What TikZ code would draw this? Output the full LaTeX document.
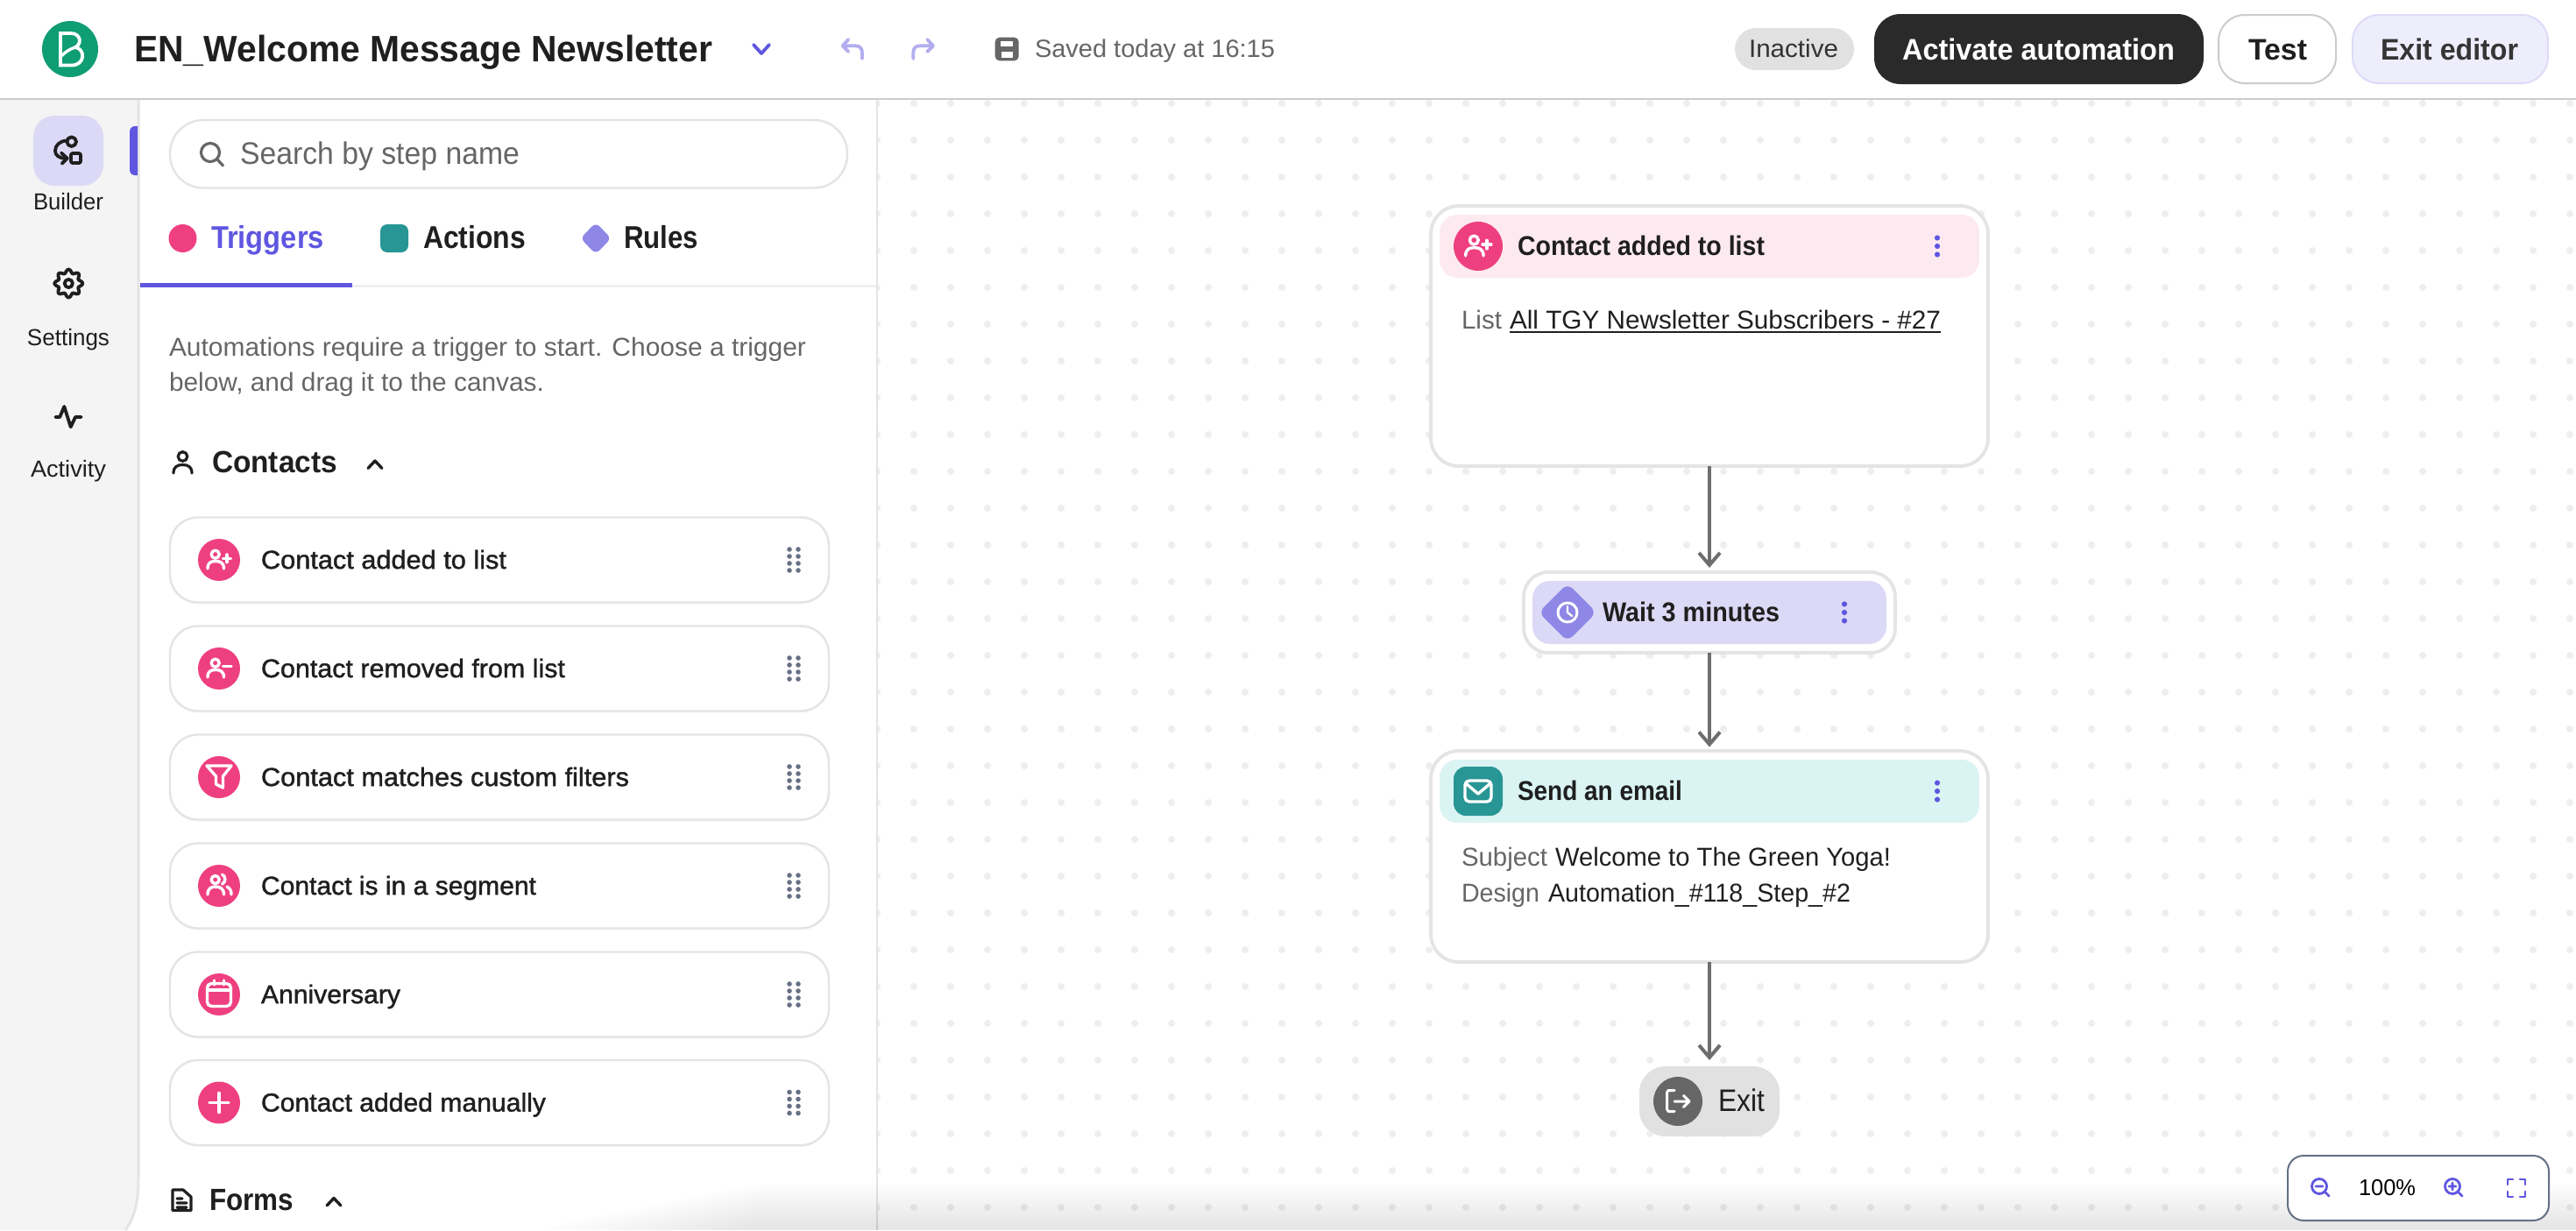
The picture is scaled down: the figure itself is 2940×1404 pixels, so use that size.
\documentclass[tikz,border=0pt]{standalone}
\usepackage{graphicx}
\usepackage{fontspec}
\setmainfont{Liberation Sans}
\newfontfamily\medfont[FakeBold=1.3]{Liberation Sans}
\usetikzlibrary{arrows.meta,shadows}
\definecolor{ink}{HTML}{1F1F1F}
\definecolor{greytx}{HTML}{666666}
\definecolor{pinkc}{HTML}{EE4080}
\definecolor{purp}{HTML}{5F56E0}
\definecolor{lilac}{HTML}{8E87E6}
\definecolor{paleL}{HTML}{DCD9F6}
\definecolor{tealc}{HTML}{279694}
\definecolor{edge}{HTML}{E4E4E4}
\definecolor{dotc}{HTML}{EEEEEE}
\definecolor{slate}{HTML}{667085}
\definecolor{undoc}{HTML}{B3ADF0}
\definecolor{logoc}{HTML}{0F9D74}
\definecolor{side}{HTML}{F4F4F4}
\definecolor{pinkhead}{HTML}{FDEAF0}
\definecolor{tealhead}{HTML}{DAF4F3}
\definecolor{pillgrey}{HTML}{E1E1E1}
\definecolor{exitfill}{HTML}{EEEDFC}
\definecolor{exitedge}{HTML}{DDDBF8}
\newlength\fw
\newcommand\fitw[2]{\settowidth\fw{#2}\pgfmathsetmacro\fr{(#1)*0.5/\fw}\scalebox{\fr}[1]{#2}}
% name, x, ycentre, width, px, style, text
\newcommand\tx[7]{\pgfmathsetmacro\fs{(#5)/2}\node[anchor=base west,inner sep=0,outer sep=0,#6] (#1) at ({#2},{#3+0.358*(#5)}) {\fontsize{\fs}{\fs}\selectfont\fitw{#4}{#7}};}
% name, x1, y1, x2, y2, style
\newcommand\bx[6]{\node[inner sep=0,outer sep=0,#6,minimum width={(#4-(#2))*.5pt},minimum height={(#5-(#3))*.5pt}] (#1) at ({(#2+#4)/2},{(#3+#5)/2}) {};}
\tikzset{
 regtx/.style={text=ink},
 greyt/.style={text=greytx},
 medtx/.style={text=ink,font=\medfont},
 boldtx/.style={text=ink,font=\bfseries},
 listcard/.style={draw=edge,line width=1.2pt,fill=white,rounded corners=16pt,drop shadow={opacity=.07,shadow xshift=0pt,shadow yshift=-1pt}},
 flowcard/.style={draw=edge,line width=1.9pt,fill=white,rounded corners=16pt},
 flowhead/.style={rounded corners=10pt},
 flowarrow/.style={draw=greytx!95,line width=2pt,-{Straight Barb[length=7pt,width=12pt,line width=2pt]}},
 wline/.style={draw=white,line width=1.7pt,line cap=round,line join=round},
 kline/.style={draw=ink,line width=1.9pt,line cap=round,line join=round},
 pline/.style={draw=purp,line width=1.4pt,line cap=round,line join=round},
 uline/.style={draw=undoc,line width=1.9pt,line cap=round,line join=round},
}
\newcommand\icoperson{\draw[wline] (-4.3,-6.3) circle (4.5);
 \draw[wline] (-13,10) .. controls (-13,3) and (-9,1.5) .. (-4,1.5) .. controls (1,1.5) and (5.5,3) .. (5.5,10);}
\newcommand\icoadd{\icoperson\draw[wline] (4.5,-1.7) -- (13.5,-1.7) (9,-6) -- (9,2.6);}
\newcommand\icorem{\icoperson\draw[wline] (4.5,-2.3) -- (14,-2.3);}
\newcommand\icofilter{\draw[wline] (-14,-13) -- (14,-13) -- (4.5,-1) -- (4.5,12) -- (-3.5,8) -- (-3.5,-1) -- cycle;}
\newcommand\icogroup{\draw[wline] (-4.3,-7) circle (4.5);
 \draw[wline] (-13,10) .. controls (-13,3) and (-9,1) .. (-4,1) .. controls (1,1) and (5.5,3) .. (5.5,10);
 \draw[wline] (3.5,-13) .. controls (8,-11) and (8,-4) .. (3.5,-2);
 \draw[wline] (9,1) .. controls (13,3) and (14,6) .. (14,10);}
\newcommand\icocal{\draw[wline,rounded corners=2.5pt] (-13.5,-12.5) rectangle (13.5,13.5);
 \draw[wline] (-13,-5) -- (13,-5) (-5.5,-16) -- (-5.5,-11) (5.5,-16) -- (5.5,-11);}
\newcommand\icoplus{\draw[wline,line width=1.8pt] (-11,0) -- (11,0) (0,-11) -- (0,11);}
\newcommand\listcardrow[5]{%
 \bx{card#1}{194}{#2-48.5}{946}{#2+48.5}{listcard}
 \fill[pinkc] (250,#2) circle (24);
 \begin{scope}[shift={(250,#2)}]#5\end{scope}
 \tx{cardtx#1}{298}{#2-0.5}{#3}{29.5}{medtx}{#4}
 \foreach \dx in {901,911} \foreach \dy in {-12,-4,4,12} \fill[slate] (\dx,#2+\dy) circle (2.8);
}
\newcommand\kebab[2]{\foreach \dy in {-9.5,0,9.5} \fill[purp] (#1,#2+\dy) circle (3.1);}
\newcommand\chev[3]{\draw[kline,line width=1.7pt] (#1-8,#2+#3*4.5) -- (#1,#2-#3*4) -- (#1+8,#2+#3*4.5);}
\begin{document}
\begin{tikzpicture}[x=0.5pt,y=-0.5pt]
\useasboundingbox (0,0) rectangle (2940,1404);
\fill[white] (0,0) rectangle (2940,1404);
% canvas dots
\begin{scope}
\clip (1001,114) rectangle (2940,1404);
\foreach \i in {0,...,46} \foreach \j in {0,...,30} \fill[dotc] (1001+42*\i,118+42*\j) circle (4);
\end{scope}
\draw[edge,line width=1.3pt] (1001,113) -- (1001,1404);
% sidebar
\fill[side] (0,114) -- (158,114) -- (158,1345) .. controls (158,1375) and (152,1392) .. (143,1404) -- (0,1404) -- cycle;
\draw[edge,line width=1.5pt] (158,114) -- (158,1345) .. controls (158,1375) and (152,1392) .. (143,1404);
% header rule
\draw[black!20,line width=1.3pt] (0,113) -- (2940,113);
% logo
\fill[logoc] (80,56) circle (32);
\draw[wline,line width=1.9pt,line cap=butt,line join=miter] (69,38) -- (81,38) .. controls (92,38) and (94,50) .. (86,54) .. controls (98,56) and (97,74.5) .. (82,74.5) -- (69,74.5) -- cycle;
\draw[wline,line width=1.7pt] (70,64) .. controls (74,60) and (79,56) .. (86,54);
\tx{title}{153}{55}{660}{42}{boldtx}{EN\_Welcome Message Newsletter}
\draw[pline,line width=1.9pt] (860,51) -- (869,61) -- (878,51);
% undo redo save
\draw[uline] (968.3,45) -- (961.7,52.3) -- (968.3,59) (961.7,52.3) -- (976,52.3) .. controls (981,52.3) and (984,55) .. (984,60) -- (984,67);
\draw[uline] (1058.3,45) -- (1065,52.3) -- (1058.3,59) (1065,52.3) -- (1050,52.3) .. controls (1045,52.3) and (1042.3,55) .. (1042.3,60) -- (1042.3,67);
\fill[greytx,rounded corners=2.5pt] (1135.7,42.7) rectangle (1162.7,69.3);
\fill[white] (1142,47.3) rectangle (1156,53.3);
\fill[white] (1143,59.3) rectangle (1156,66);
\tx{saved}{1181}{55.5}{274}{28.5}{greyt}{Saved today at 16:15}
% header buttons
\bx{inactive}{1980}{32}{2116}{80}{fill=pillgrey,rounded corners=12pt}
\tx{inactivetx}{1996}{55.5}{102}{28.5}{text=black!80}{Inactive}
\bx{activate}{2139}{16}{2515}{96}{fill=ink!95,rounded corners=15pt}
\tx{activatetx}{2171}{56}{311}{34}{text=white,font=\bfseries}{Activate automation}
\bx{testb}{2532}{17}{2666}{95}{draw=black!20,line width=1pt,fill=white,rounded corners=15pt}
\tx{testtx}{2566}{56}{67}{34}{boldtx}{Test}
\bx{exitb}{2685}{17}{2908}{95}{draw=exitedge,line width=1pt,fill=exitfill,rounded corners=15pt}
\tx{exittx}{2717}{56}{157}{34}{boldtx,text=ink!90}{Exit editor}
% sidebar items
\bx{builder}{38}{132}{118}{212}{fill=paleL,rounded corners=12pt}
\draw[kline] (76,160.5) .. controls (68,161) and (63,166) .. (63,172) .. controls (63,177) and (67,180.7) .. (75,180.7);
\draw[kline] (70,174.5) -- (76.7,180.7) -- (70.7,186.7);
\draw[kline] (81.7,161.7) circle (5.3);
\draw[kline,rounded corners=1pt] (81,175) rectangle (92,186);
\tx{buildertx}{38}{230.5}{80}{26.5}{regtx}{Builder}
\fill[purp] (157,144) [rounded corners=3pt] -- (148,144) -- (148,200) [sharp corners] -- (157,200) -- cycle;
\draw[kline,smooth,domain=0:360,samples=97,variable=\t] plot ({78.3+(14+2*cos(8*\t))*cos(\t)},{323.5+(14+2*cos(8*\t))*sin(\t)});
\draw[kline] (78.3,323.5) circle (4.6);
\tx{settingstx}{31}{385}{94}{26.5}{regtx}{Settings}
\draw[kline] (63.3,476) -- (68.3,476) -- (73.3,464) -- (80.7,487.3) -- (86,476) -- (92.7,476);
\tx{activitytx}{35}{535}{86}{26.5}{regtx}{Activity}
% search
\bx{search}{194}{137}{967}{214.5}{draw=edge,line width=1.2pt,fill=white,rounded corners=19pt}
\draw[kline,draw=greytx,line width=1.6pt] (240,174) circle (10.5) (248,182) -- (254.5,189);
\tx{searchtx}{274}{175}{319}{35.5}{greyt}{Search by step name}
% tabs
\fill[pinkc] (208.5,272) circle (16);
\tx{trigtx}{241}{271}{129}{36}{text=purp,font=\bfseries}{Triggers}
\fill[tealc,rounded corners=4pt] (434,256) rectangle (466,288);
\tx{acttx}{483}{271}{117}{36}{boldtx}{Actions}
\fill[lilac,rounded corners=3pt] (680,254) -- (697.5,272) -- (680,290) -- (662.5,272) -- cycle;
\tx{rulestx}{712}{271}{85}{36}{boldtx}{Rules}
\fill[black!6] (402,325) rectangle (1000,328);
\fill[purp] (160,323) rectangle (402,328);
\tx{desc1}{193}{395.5}{727}{29.5}{greyt}{Automations require a trigger to start. Choose a trigger}
\tx{desc2}{193}{435.5}{428}{29.5}{greyt}{below, and drag it to the canvas.}
% Contacts section
\draw[kline,line width=1.6pt] (208.5,521) circle (5.3);
\draw[kline,line width=1.6pt] (198,540) .. controls (198,533) and (202,530.5) .. (208.5,530.5) .. controls (215,530.5) and (219,533) .. (219,540);
\tx{contactstx}{242}{527}{143}{35}{boldtx}{Contacts}
\chev{428}{530}{1}
\listcardrow{1}{639}{280}{Contact added to list}{\icoadd}
\listcardrow{2}{763}{347}{Contact removed from list}{\icorem}
\listcardrow{3}{887}{420}{Contact matches custom filters}{\icofilter}
\listcardrow{4}{1011}{314}{Contact is in a segment}{\icogroup}
\listcardrow{5}{1135}{159}{Anniversary}{\icocal}
\listcardrow{6}{1258.5}{325}{Contact added manually}{\icoplus}
% Forms section
\draw[kline,line width=1.6pt] (197,1360) -- (197,1381.5) -- (218,1381.5) -- (218,1366) -- (209,1358) -- (197,1358) -- cycle (202,1368) -- (208,1368) (202,1373) -- (213,1373) (202,1378) -- (213,1378);
\tx{formstx}{239}{1369}{96}{35}{boldtx}{Forms}
\chev{381}{1371.5}{1}
% flow
\bx{c1}{1633}{235}{2269}{532}{flowcard}
\bx{c1h}{1643}{245}{2259}{317}{fill=pinkhead,flowhead}
\fill[pinkc] (1687,281) circle (28);
\begin{scope}[shift={(1687,281)},scale=1.1]\icoadd\end{scope}
\tx{c1t}{1732}{280.5}{282}{31}{boldtx}{Contact added to list}
\kebab{2211}{281}
\tx{c1l}{1668}{365}{46}{29.5}{greyt}{List}
\tx{c1v}{1723}{365}{492}{29.5}{regtx}{All TGY Newsletter Subscribers - \#27}
\draw[ink,line width=1pt] ([yshift=-1.7pt]c1v.base west) -- ([yshift=-1.7pt]c1v.base east);
\bx{wait}{1739}{653}{2163}{745}{flowcard,rounded corners=14pt}
\bx{waith}{1749}{663}{2153}{735}{fill=paleL,flowhead}
\fill[lilac,rounded corners=4pt] (1789,666) -- (1822,699) -- (1789,732) -- (1756,699) -- cycle;
\draw[wline,line width=1.5pt] (1789,699) circle (11);
\draw[wline,line width=1.2pt] (1789,692) -- (1789,699) -- (1794,703);
\tx{waitt}{1829}{698.5}{202}{31}{boldtx}{Wait 3 minutes}
\kebab{2105}{699}
\bx{c2}{1633}{857}{2269}{1098}{flowcard}
\bx{c2h}{1643}{867}{2259}{939}{fill=tealhead,flowhead}
\fill[tealc,rounded corners=7pt] (1659,875) rectangle (1715,931);
\draw[wline,rounded corners=2.5pt] (1672,891) rectangle (1702,915);
\draw[wline] (1674,895) -- (1687,906) -- (1700,895);
\tx{c2t}{1732}{902.5}{188}{31}{boldtx}{Send an email}
\kebab{2211}{903}
\tx{c2a}{1668}{978}{98}{29.5}{greyt}{Subject}
\tx{c2b}{1775}{978}{383}{29.5}{regtx}{Welcome to The Green Yoga!}
\tx{c2c}{1668}{1019}{89}{29.5}{greyt}{Design}
\tx{c2d}{1767}{1019}{345}{29.5}{regtx}{Automation\_\#118\_Step\_\#2}
\bx{exitn}{1871}{1217}{2031}{1297}{fill=pillgrey,rounded corners=15pt}
\fill[greytx] (1915,1257) circle (28);
\draw[wline,line width=1.5pt] (1911,1244.5) -- (1904,1244.5) -- (1902.5,1247) -- (1902.5,1266) -- (1904,1268.5) -- (1911,1268.5);
\draw[wline,line width=1.5pt] (1911,1257) -- (1928,1257) (1921.5,1250.5) -- (1928,1257) -- (1921.5,1263.5);
\tx{exitnt}{1961}{1256}{53}{35.5}{regtx}{Exit}
\draw[flowarrow,shorten >=2.5pt] (c1.south) -- (wait.north);
\draw[flowarrow,shorten >=2.2pt] (wait.south) -- (c2.north);
\draw[flowarrow,shorten >=3.5pt] (c2.south) -- (exitn.north);
% bottom fade
\foreach \k in {0,...,24} \fill[black,opacity=.003] (860-10*\k,1350+2*\k) rectangle (2940,1404);
% zoom control
\bx{zoomb}{2611}{1319}{2909}{1393}{draw=slate,line width=1pt,fill=white,rounded corners=9pt}
\draw[pline] (2647,1354) circle (8.5) (2653.5,1360.5) -- (2658,1365) (2643,1354) -- (2651,1354);
\tx{zoomtx}{2692}{1355}{65}{26}{text=black}{100\%}
\draw[pline] (2799,1354) circle (8.5) (2805.5,1360.5) -- (2810,1365) (2795,1354) -- (2803,1354) (2799,1350) -- (2799,1358);
\draw[pline] (2862,1352) -- (2862,1346) -- (2868,1346) (2876,1346) -- (2882,1346) -- (2882,1352) (2882,1360) -- (2882,1366) -- (2876,1366) (2868,1366) -- (2862,1366) -- (2862,1360);
\end{tikzpicture}
\end{document}
